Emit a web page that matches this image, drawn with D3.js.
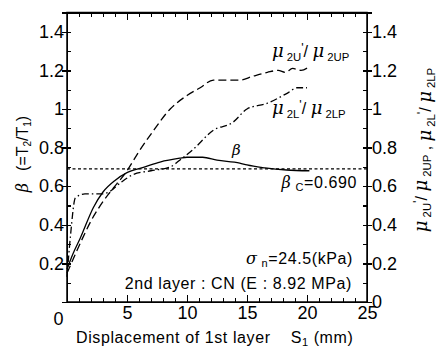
<!doctype html>
<html>
<head>
<meta charset="utf-8">
<title>beta vs displacement</title>
<script src="https://cdn.jsdelivr.net/npm/d3@7/dist/d3.min.js"></script>
<style>
body { margin: 0; background: #fff; }
svg { font-family: 'Liberation Sans', Arial, Helvetica, sans-serif; }
.axis path, .axis line { stroke: #000; stroke-width: 1.3; shape-rendering: crispEdges; }
.axis text { font-size: 18px; fill: #000; }
.note { font-size: 16px; fill: #000; letter-spacing: 0.6px; }
.curve { fill: none; stroke: #000; stroke-width: 1.3; }
</style>
</head>
<body>
<script>
// tick values
var xTicks = [0, 5, 10, 15, 20, 25]
var yTicks = [0.2, 0.4, 0.6, 0.8, 1, 1.2, 1.4]
var yTicksRight = [0, 0.2, 0.4, 0.6, 0.8, 1, 1.2, 1.4]
var betaC = 0.690

// beta = T2/T1 (solid)
var sBeta = [0, 0.5, 1.1, 2.2, 3, 4, 5, 6.5, 7.75, 9.4, 10, 11.3, 12.5, 14.4, 15, 16.5, 18.3, 20.2]
var beta  = [0.17, 0.25, 0.33, 0.49, 0.57, 0.63, 0.67, 0.70, 0.725, 0.745, 0.75, 0.75, 0.735, 0.72, 0.71, 0.695, 0.684, 0.68]

// mu2U'/mu2UP (dashed)
var sU = [0, 0.5, 1, 2, 3, 3.6, 5, 6, 7, 8.6, 10, 11.1, 12.2, 14.4, 15.5, 16.7, 17.6, 18.2, 18.8, 19.5, 20.2]
var ratioU = [0.15, 0.22, 0.29, 0.42, 0.52, 0.57, 0.68, 0.78, 0.87, 1.0, 1.07, 1.11, 1.15, 1.15, 1.17, 1.19, 1.2, 1.19, 1.21, 1.2, 1.22]

// mu2L'/mu2LP (dash-dot)
var sL = [0, 0.3, 0.7, 1.5, 3, 3.5, 4.5, 5.5, 7, 8.6, 9.5, 10.5, 12.2, 13.8, 15, 16.7, 18.3, 19.2, 20]
var ratioL = [0.13, 0.35, 0.54, 0.56, 0.56, 0.57, 0.62, 0.66, 0.68, 0.70, 0.74, 0.79, 0.89, 0.93, 1.0, 1.03, 1.08, 1.11, 1.11]

var W = 440, H = 351

var svg = d3.select("body").append("svg")
    .attr("width", W)
    .attr("height", H)

var x = d3.scaleLinear().domain([0, 25]).range([67, 367])
var y = d3.scaleLinear().domain([0, 1.5]).range([302, 12.5])

var fmt = function(d) { return String(+d.toFixed(1)) }

// minor ticks (inside the frame)
var minorY = d3.range(1, 15).map(function(i) { return i / 10 })
var minorX = d3.range(1, 25)

svg.append("g").attr("class", "axis")
    .attr("transform", "translate(" + x(0) + ",0)")
    .call(d3.axisLeft(y).tickValues(minorY).tickSize(-4).tickFormat(""))
svg.append("g").attr("class", "axis")
    .attr("transform", "translate(" + x(25) + ",0)")
    .call(d3.axisRight(y).tickValues(minorY).tickSize(-4).tickFormat(""))
svg.append("g").attr("class", "axis")
    .attr("transform", "translate(0," + y(0) + ")")
    .call(d3.axisBottom(x).tickValues(minorX).tickSize(-4).tickFormat(""))
svg.append("g").attr("class", "axis")
    .attr("transform", "translate(0," + y(1.5) + ")")
    .call(d3.axisTop(x).tickValues(minorX).tickSize(-4).tickFormat(""))
svg.append("g").attr("class", "axis")
    .attr("transform", "translate(0," + y(1.5) + ")")
    .call(d3.axisTop(x).tickValues([5, 10, 15, 20]).tickSize(-7).tickFormat(""))

// major axes
svg.append("g").attr("class", "axis")
    .attr("transform", "translate(" + x(0) + ",0)")
    .call(d3.axisLeft(y).tickValues(yTicks).tickSize(5).tickPadding(-2).tickFormat(fmt))

svg.append("g").attr("class", "axis")
    .attr("transform", "translate(" + x(25) + ",0)")
    .call(d3.axisRight(y).tickValues(yTicksRight).tickSize(5).tickPadding(0).tickFormat(fmt))

var xAxis = svg.append("g").attr("class", "axis")
    .attr("transform", "translate(0," + y(0) + ")")
    .call(d3.axisBottom(x).tickValues(xTicks).tickSize(-7).tickPadding(4).tickFormat(fmt))
xAxis.selectAll(".tick text").filter(function(d) { return d === 0 }).attr("dx", -9).attr("dy", "1.05em")

// frame
svg.append("rect")
    .attr("x", x(0)).attr("y", y(1.5))
    .attr("width", x(25) - x(0)).attr("height", y(0) - y(1.5))
    .attr("fill", "none").attr("stroke", "#000").attr("stroke-width", 1.5)

// beta_c reference
svg.append("line")
    .attr("x1", x(0)).attr("x2", x(25))
    .attr("y1", y(betaC)).attr("y2", y(betaC))
    .attr("stroke", "#000").attr("stroke-width", 1.1)
    .attr("stroke-dasharray", "3,2.5")

var line = d3.line()
    .x(function(d) { return x(d[0]) })
    .y(function(d) { return y(d[1]) })
    .curve(d3.curveMonotoneX)

function zip(a, b) { return a.map(function(v, i) { return [v, b[i]] }) }

svg.append("path").attr("class", "curve")
    .attr("d", line(zip(sBeta, beta)))

svg.append("path").attr("class", "curve")
    .attr("stroke-dasharray", "8,4")
    .attr("d", line(zip(sU, ratioU)))

svg.append("path").attr("class", "curve")
    .attr("stroke-dasharray", "7,3,1.5,3")
    .attr("d", line(zip(sL, ratioL)))

// mu with subscript (and optional prime); leaves baseline where it started
function mu(t, sub, prime, size) {
  size = size || 18
  t.append("tspan").attr("font-style", "italic").attr("font-size", size)
      .attr("font-family", "'DejaVu Serif', serif").text("\u03bc")
  t.append("tspan").attr("font-size", size * 0.63).attr("dy", 4).attr("dx", 3).text(sub)
  if (prime) {
    t.append("tspan").attr("font-size", size * 0.7).attr("dy", -9).text("'")
    t.append("tspan").attr("font-size", size * 0.9).attr("dy", 5).text("/ ")
  } else {
    t.append("tspan").attr("dy", -4).text("")
  }
}

var tU = svg.append("text").attr("x", 272).attr("y", 57)
mu(tU, "2U", true)
mu(tU, "2UP", false)

var tL = svg.append("text").attr("x", 272).attr("y", 114)
mu(tL, "2L", true)
mu(tL, "2LP", false)

svg.append("text").attr("x", 232).attr("y", 155)
    .attr("font-size", 15).attr("font-style", "italic")
    .attr("font-family", "'DejaVu Serif', serif").text("\u03b2")

var tc = svg.append("text").attr("class", "note").attr("x", 357).attr("y", 188)
    .attr("text-anchor", "end").attr("font-size", 17)
tc.append("tspan").attr("font-style", "italic").attr("font-family", "'DejaVu Serif', serif")
    .text("\u03b2")
tc.append("tspan").attr("font-size", 11).attr("dy", 3).attr("dx", 4).text("C")
tc.append("tspan").attr("dy", -3).text("=0.690")

var ts = svg.append("text").attr("class", "note").attr("x", 353).attr("y", 264)
    .attr("text-anchor", "end").attr("font-size", 18)
ts.append("tspan").attr("font-style", "italic").attr("font-family", "'DejaVu Serif', serif")
    .text("\u03c3")
ts.append("tspan").attr("font-size", 11).attr("dy", 3).attr("dx", 4).text("n")
ts.append("tspan").attr("dy", -3).text("=24.5(kPa)")

svg.append("text").attr("class", "note").attr("x", 352).attr("y", 289)
    .attr("text-anchor", "end")
    .text("2nd layer : CN (E : 8.92 MPa)")

// x title
var tx = svg.append("text").attr("class", "note").attr("x", 76).attr("y", 343)
tx.append("tspan").text("Displacement of 1st layer")
tx.append("tspan").attr("dx", 20).text("S")
tx.append("tspan").attr("font-size", 11).attr("dy", 3).text("1")
tx.append("tspan").attr("dy", -3).text(" (mm)")

// left title
var ty = svg.append("text").attr("transform", "translate(28,154) rotate(-90)")
    .attr("text-anchor", "middle").attr("font-size", 16)
ty.append("tspan").attr("font-style", "italic").attr("font-family", "'DejaVu Serif', serif").text("\u03b2")
ty.append("tspan").attr("dx", 12).text("(=T")
ty.append("tspan").attr("font-size", 10).attr("dy", 3).text("2")
ty.append("tspan").attr("dy", -3).text("/T")
ty.append("tspan").attr("font-size", 10).attr("dy", 3).text("1")
ty.append("tspan").attr("dy", -3).text(")")

// right title
var tr = svg.append("text").attr("transform", "translate(427,150) rotate(-90)")
    .attr("text-anchor", "middle")
mu(tr, "2U", true, 18)
mu(tr, "2UP", false, 18)
tr.append("tspan").attr("font-size", 16).text(" ,  ")
mu(tr, "2L", true, 18)
mu(tr, "2LP", false, 18)
</script>
</body>
</html>
